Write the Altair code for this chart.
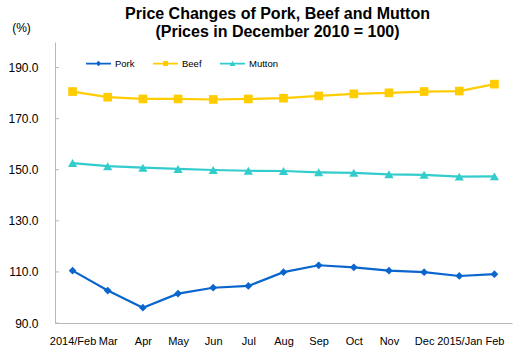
import json
import altair as alt
import pandas as pd

months = ["2014/Feb", "Mar", "Apr", "May", "Jun", "Jul", "Aug", "Sep", "Oct",
          "Nov", "Dec", "2015/Jan", "Feb"]
series = ["Pork", "Beef", "Mutton"]
colors = ["#0a66cc", "#ffcc00", "#33cccc"]
pork = [110.5, 102.7, 96.0, 101.5, 103.8, 104.5, 109.9, 112.6, 111.8, 110.5, 109.9, 108.4, 109.1]
beef = [180.6, 178.4, 177.7, 177.7, 177.5, 177.7, 178.0, 178.9, 179.7, 180.1, 180.6, 180.8, 183.5]
mutton = [152.6, 151.4, 150.8, 150.3, 149.9, 149.6, 149.5, 149.0, 148.8, 148.2, 148.0, 147.3, 147.4]
y_ticks = [90, 110, 130, 150, 170, 190]
y_domain = [90, 200]

marker_shapes = ["diamond", "square", "triangle-up"]
marker_sizes = [60, 75, 85]
legend_paths = [
    "M-1,-0.07H1V0.07H-1ZM0,-0.22L0.22,0L0,0.22L-0.22,0Z",
    "M-1,-0.07H1V0.07H-1ZM-0.2,-0.2H0.2V0.2H-0.2Z",
    "M-1,-0.07H1V0.07H-1ZM0,-0.22L0.23,0.19L-0.23,0.19Z",
]

rows = []
for name, vals in zip(series, [pork, beef, mutton]):
    for i, v in enumerate(vals):
        rows.append({"idx": i, "series": name, "value": v})
df = pd.DataFrame(rows)

label_expr = json.dumps(months) + "[datum.value]"
FONT = "Liberation Sans"

x_enc = alt.X("idx:O", axis=alt.Axis(labelExpr=label_expr, labelAngle=0, ticks=False, tickSize=0,
                                     labelPadding=12, labelFontSize=11, labelColor="#000000",
                                     domainColor="#b8b8b8", grid=False, title=None))
y_enc = alt.Y("value:Q", scale=alt.Scale(domain=y_domain, nice=False, zero=False),
              axis=alt.Axis(values=y_ticks, format=".1f", ticks=False, tickSize=0, labelPadding=17,
                            labelFontSize=12, labelColor="#000000", domainColor="#b8b8b8",
                            grid=False, title="(%)", titleAngle=0, titleX=-34, titleY=-15,
                            titleAlign="center", titleBaseline="middle", titleFontWeight="normal",
                            titleFontSize=12, titleColor="#000000"))

base = alt.Chart(df)
layers = []
for name, col, shp, sz in zip(series, colors, marker_shapes, marker_sizes):
    sub = base.transform_filter(alt.datum.series == name)
    layers.append(sub.mark_line(strokeWidth=2.2, color=col).encode(x=x_enc, y=y_enc))
    layers.append(sub.mark_point(shape=shp, filled=True, size=sz, opacity=1, color=col)
                  .encode(x=x_enc, y=y_enc))

leg = alt.Legend(title=None, orient="none", legendX=31, legendY=9,
                 direction="horizontal", columns=3, labelFontSize=9.5,
                 labelOffset=4, columnPadding=18, padding=0,
                 symbolSize=625, symbolStrokeWidth=0,
                 labelColor="#000000", labelFont=FONT)
legend_layer = base.transform_filter("false").mark_point(filled=True, opacity=1, size=625).encode(
    x=x_enc, y=y_enc,
    color=alt.Color("series:N", scale=alt.Scale(domain=series, range=colors), legend=leg),
    shape=alt.Shape("series:N", scale=alt.Scale(domain=series, range=legend_paths), legend=leg),
)

tick_df = pd.DataFrame({"t": y_ticks})
tick_rules = alt.Chart(tick_df).mark_rule(color="#b8b8b8", strokeWidth=1).encode(
    y=alt.Y("t:Q", scale=alt.Scale(domain=y_domain, nice=False, zero=False)),
    x=alt.value(0), x2=alt.value(4),
)

chart = alt.layer(tick_rules, *layers, legend_layer).properties(
    width=457, height=281,
    autosize=alt.AutoSizeParams(type="none"),
    padding={"left": 55, "top": 42, "right": 6, "bottom": 34},
    title=alt.TitleParams(
        text=["Price Changes of Pork, Beef and Mutton", "(Prices in December 2010 = 100)"],
        fontSize=16, fontWeight="bold", font=FONT, color="#000000",
        anchor="middle", dx=-6, offset=-19, lineHeight=18,
    ),
).configure(font=FONT, background="#ffffff").configure_view(stroke=None)

chart.save("out.html", embed_options={"renderer": "svg", "actions": False})
